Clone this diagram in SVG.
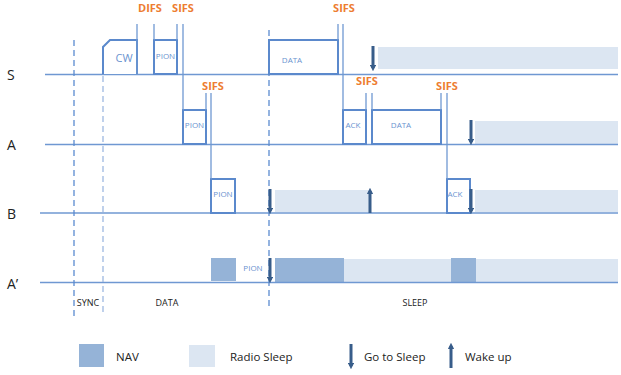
<svg xmlns="http://www.w3.org/2000/svg" width="621" height="375" viewBox="0 0 621 375">
  <defs>
    <style>
      .axis { stroke: #6f98d2; stroke-width: 1.6; fill: none; }
      .tick { stroke: #6f98d2; stroke-width: 1.3; fill: none; }
      .dash { stroke: #5b8bd0; stroke-width: 1.3; stroke-dasharray: 6 4; fill: none; }
      .dash-lt { stroke: #9db8e0; stroke-width: 1.3; stroke-dasharray: 6 4; fill: none; }
      .frame { stroke: #5b89cc; stroke-width: 2; fill: #ffffff; }
      .nav { fill: #95b3d7; }
      .sleep { fill: #dce6f2; }
      .arrow { stroke: #385d8a; stroke-width: 3; fill: none; }
      .row { font-family: "Open Sans", "Liberation Sans", sans-serif; font-size: 14px; fill: #222222; }
      .ifs { font-family: "Open Sans", "Liberation Sans", sans-serif; font-size: 11px; font-weight: bold; fill: #ed7d31; text-anchor: middle; }
      .box { font-family: "Open Sans", "Liberation Sans", sans-serif; font-size: 8px; fill: #6a93cf; text-anchor: middle; }
      .phase { font-family: "Open Sans", "Liberation Sans", sans-serif; font-size: 9px; fill: #222222; text-anchor: middle; }
      .legend { font-family: "Open Sans", "Liberation Sans", sans-serif; font-size: 11.5px; fill: #222222; }
    </style>
    <marker id="head" viewBox="0 0 6 6" refX="3" refY="3" markerWidth="2.2" markerHeight="2.2" orient="auto-start-reverse">
      <path d="M0,0 L6,3 L0,6 Z" fill="#385d8a"/>
    </marker>
  </defs>

  <!-- sleep and NAV periods -->
  <g id="periods">
    <rect class="sleep" x="378" y="47" width="240" height="22"/>
    <rect class="sleep" x="475" y="121" width="143" height="23"/>
    <rect class="sleep" x="275" y="190" width="95" height="22"/>
    <rect class="sleep" x="475" y="190" width="143" height="22"/>
    <rect class="nav" x="211" y="258" width="25" height="23"/>
    <rect class="nav" x="275" y="258" width="69" height="24"/>
    <rect class="sleep" x="344" y="259" width="107" height="23"/>
    <rect class="nav" x="451" y="258" width="25" height="24"/>
    <rect class="sleep" x="476" y="259" width="142" height="23"/>
  </g>

  <!-- time axes -->
  <g id="axes">
    <line class="axis" x1="45" y1="74.5" x2="618" y2="74.5"/>
    <line class="axis" x1="45" y1="144.5" x2="618" y2="144.5"/>
    <line class="axis" x1="40" y1="213" x2="618" y2="213"/>
    <line class="axis" x1="40" y1="282.5" x2="618" y2="282.5"/>
    <text class="row" x="7" y="80">S</text>
    <text class="row" x="7" y="150">A</text>
    <text class="row" x="7" y="219">B</text>
    <text class="row" x="7" y="289">A’</text>
  </g>

  <!-- phase boundaries -->
  <g id="phases">
    <line class="dash" x1="74" y1="40" x2="74" y2="316"/>
    <line class="dash-lt" x1="103" y1="76" x2="103" y2="316"/>
    <line class="dash" x1="269" y1="30" x2="269" y2="306"/>
    <text class="phase" x="88" y="306">SYNC</text>
    <text class="phase" x="167" y="306">DATA</text>
    <text class="phase" x="415" y="306">SLEEP</text>
  </g>

  <!-- frames -->
  <g id="cw">
    <path class="frame" d="M103,74 L103,47 L110,40 L137,40 L137,74"/>
    <text class="box" x="124" y="62" style="font-size:11px">CW</text>
  </g>
  <g id="s-pion">
    <rect class="frame" x="154" y="40" width="23" height="34"/>
    <text class="box" x="165.5" y="59">PION</text>
  </g>
  <g id="a-pion">
    <rect class="frame" x="183" y="110" width="23" height="34"/>
    <text class="box" x="194.5" y="128">PION</text>
  </g>
  <g id="b-pion">
    <rect class="frame" x="211" y="179" width="24" height="34"/>
    <text class="box" x="223" y="197">PION</text>
  </g>
  <g id="a2-pion">
    <text class="box" x="253" y="271">PION</text>
  </g>
  <g id="s-data">
    <rect class="frame" x="269" y="40" width="69" height="34"/>
    <text class="box" x="292" y="63">DATA</text>
  </g>
  <g id="a-ack">
    <rect class="frame" x="343" y="110" width="23" height="34"/>
    <text class="box" x="353" y="128">ACK</text>
  </g>
  <g id="a-data">
    <rect class="frame" x="372" y="110" width="69" height="34"/>
    <text class="box" x="401" y="128">DATA</text>
  </g>
  <g id="b-ack">
    <rect class="frame" x="447" y="179" width="23" height="34"/>
    <text class="box" x="455" y="197">ACK</text>
  </g>

  <!-- interframe spaces and hand-off lines -->
  <g id="connectors">
    <line class="tick" x1="137" y1="24" x2="137" y2="74"/>
    <line class="tick" x1="154" y1="24" x2="154" y2="40"/>
    <line class="tick" x1="177" y1="24" x2="177" y2="40"/>
    <line class="tick" x1="183" y1="24" x2="183" y2="110"/>
    <line class="tick" x1="206" y1="93" x2="206" y2="110"/>
    <line class="tick" x1="211" y1="93" x2="211" y2="179"/>
    <line class="tick" x1="338" y1="24" x2="338" y2="40"/>
    <line class="tick" x1="343" y1="24" x2="343" y2="110"/>
    <line class="tick" x1="366" y1="93" x2="366" y2="110"/>
    <line class="tick" x1="372" y1="93" x2="372" y2="110"/>
    <line class="tick" x1="441" y1="93" x2="441" y2="110"/>
    <line class="tick" x1="447" y1="93" x2="447" y2="179"/>
    <text class="ifs" x="150" y="12">DIFS</text>
    <text class="ifs" x="183" y="12">SIFS</text>
    <text class="ifs" x="213" y="90">SIFS</text>
    <text class="ifs" x="344" y="12">SIFS</text>
    <text class="ifs" x="367" y="85">SIFS</text>
    <text class="ifs" x="447" y="90">SIFS</text>
  </g>

  <!-- radio state changes -->
  <g id="transitions">
    <line class="arrow" x1="373" y1="46" x2="373" y2="68" marker-end="url(#head)"/>
    <line class="arrow" x1="471" y1="120" x2="471" y2="142" marker-end="url(#head)"/>
    <line class="arrow" x1="270" y1="189" x2="270" y2="211" marker-end="url(#head)"/>
    <line class="arrow" x1="370" y1="213" x2="370" y2="191" marker-end="url(#head)"/>
    <line class="arrow" x1="471" y1="189" x2="471" y2="211" marker-end="url(#head)"/>
    <line class="arrow" x1="270" y1="258" x2="270" y2="280" marker-end="url(#head)"/>
  </g>

  <!-- legend -->
  <g id="legend">
    <rect class="nav" x="79" y="344" width="25" height="23"/>
    <text class="legend" x="116" y="361">NAV</text>
    <rect class="sleep" x="189" y="345" width="26" height="22"/>
    <text class="legend" x="230" y="361">Radio Sleep</text>
    <line class="arrow" x1="351" y1="344" x2="351" y2="366" marker-end="url(#head)"/>
    <text class="legend" x="364" y="361">Go to Sleep</text>
    <line class="arrow" x1="451" y1="368" x2="451" y2="346" marker-end="url(#head)"/>
    <text class="legend" x="465" y="361">Wake up</text>
  </g>
</svg>
